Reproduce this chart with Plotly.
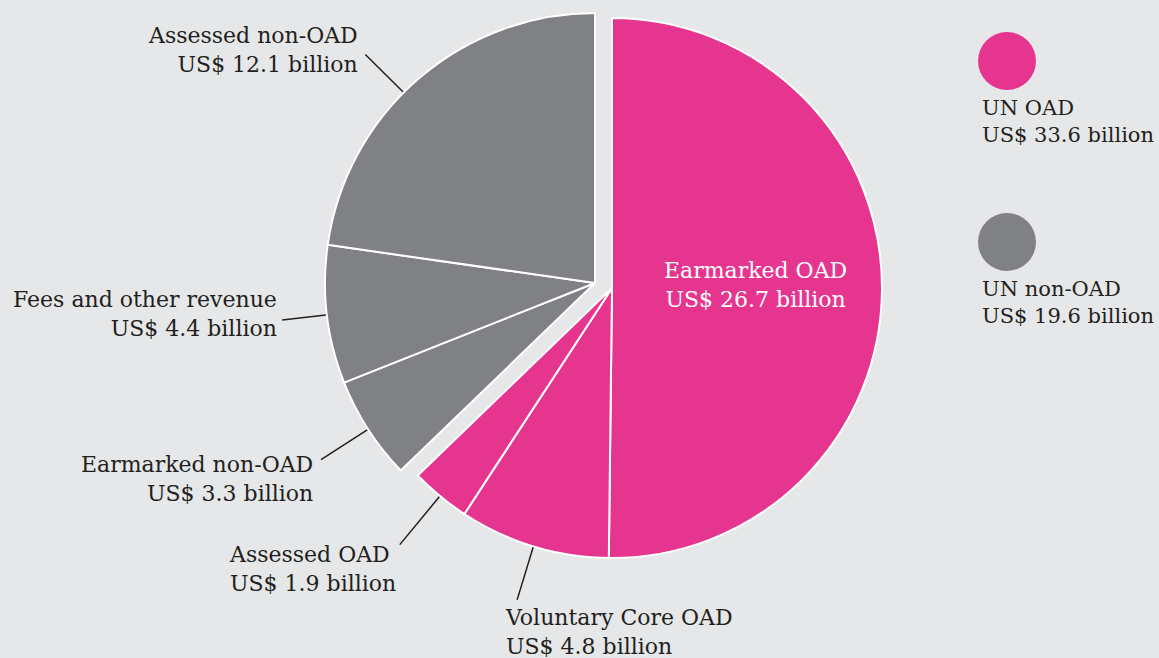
import math
import plotly.graph_objects as go

# ---------------- data ----------------
categories = ["Earmarked OAD", "Voluntary Core OAD", "Assessed OAD",
              "Earmarked non-OAD", "Fees and other revenue", "Assessed non-OAD"]
values = [26.7, 4.8, 1.9, 3.3, 4.4, 12.1]
groups = ["OAD", "OAD", "OAD", "non-OAD", "non-OAD", "non-OAD"]
group_keys = ["OAD", "non-OAD"]
group_names = ["UN OAD", "UN non-OAD"]
group_totals = [33.6, 19.6]

# ---------------- style / layout ----------------
W, H = 1159, 658
PINK = "#E6358F"
GREY = "#808185"
BG = "#E6E7E8"
TEXT = "#231F20"
FONT = "DejaVu Serif"
FS = 22
LEG_FS = 21
group_colors = {"OAD": PINK, "non-OAD": GREY}
# pie centre / radius in pixels for each (exploded) group
pie_geom = {"OAD": (612, 288, 270), "non-OAD": (595, 283, 270)}

# per-slice label placement: (leader length px, angle tweak deg, xanchor, align, xshift, yshift)
label_cfg = {
    1: (55, 0.0, "left", "left", -14, -32),
    2: (62, 0.0, "right", "left", -2, -24.5),
    3: (55, 0.0, "right", "right", -6, -19.5),
    4: (44, 0.0, "right", "right", -3, 6.5),
    5: (53, -4.2, "right", "right", -5, 4.5),
}
inside_label = 0
legend_pos = [(1007, 61), (1007, 242)]
legend_r = 29


def px2paper(x, y):
    return x / W, 1 - y / H


total = sum(values)
mids = []
acc = 0.0
for v in values:
    mids.append((acc + v / 2) / total * 360)
    acc += v

fig = go.Figure()
for g in group_keys:
    cx, cy, r = pie_geom[g]
    cols = [group_colors[g] if gg == g else "rgba(0,0,0,0)" for gg in groups]
    lcols = ["white" if gg == g else "rgba(0,0,0,0)" for gg in groups]
    fig.add_trace(go.Pie(
        labels=categories, values=values, sort=False, direction="clockwise",
        rotation=0, textinfo="none", hoverinfo="label+value",
        marker=dict(colors=cols, line=dict(color=lcols, width=2)),
        domain=dict(x=[(cx - r) / W, (cx + r) / W],
                    y=[1 - (cy + r) / H, 1 - (cy - r) / H]),
        showlegend=False,
    ))

shapes, annotations = [], []
for i, cat in enumerate(categories):
    cx, cy, r = pie_geom[groups[i]]
    text = f"{cat}<br>US$ {values[i]} billion"
    if i == inside_label:
        th = math.radians(mids[i])
        x = cx + 0.53 * r * math.sin(th)
        y = cy - 0.53 * r * math.cos(th)
        px_, py_ = px2paper(x, y)
        annotations.append(dict(x=px_, y=py_, xref="paper", yref="paper", text=text,
                                showarrow=False, xanchor="center", yanchor="middle",
                                align="center", yshift=4,
                                font=dict(family=FONT, size=FS, color="white")))
        continue
    L, tweak, xa, al, xs, ys = label_cfg[i]
    th = math.radians(mids[i] + tweak)
    x0 = cx + (r + 1) * math.sin(th)
    y0 = cy - (r + 1) * math.cos(th)
    x1 = cx + (r + 1 + L) * math.sin(th)
    y1 = cy - (r + 1 + L) * math.cos(th)
    a0, b0 = px2paper(x0, y0)
    a1, b1 = px2paper(x1, y1)
    shapes.append(dict(type="line", xref="paper", yref="paper", x0=a0, y0=b0, x1=a1, y1=b1,
                       line=dict(color=TEXT, width=1.5)))
    annotations.append(dict(x=a1, y=b1, xref="paper", yref="paper", text=text,
                            showarrow=False, xanchor=xa, yanchor="middle", align=al,
                            xshift=xs, yshift=ys,
                            font=dict(family=FONT, size=FS, color=TEXT)))

for k, g in enumerate(group_keys):
    lx, ly = legend_pos[k]
    x0, y0 = px2paper(lx - legend_r, ly - legend_r)
    x1, y1 = px2paper(lx + legend_r, ly + legend_r)
    shapes.append(dict(type="circle", xref="paper", yref="paper", x0=x0, x1=x1, y0=y1, y1=y0,
                       fillcolor=group_colors[g], line=dict(width=0)))
    tx, ty = px2paper(lx - 27, ly + 60.5)
    annotations.append(dict(x=tx, y=ty, xref="paper", yref="paper",
                            text=f"{group_names[k]}<br>US$ {group_totals[k]} billion",
                            showarrow=False, xanchor="left", yanchor="middle", align="left",
                            font=dict(family=FONT, size=LEG_FS, color=TEXT)))

fig.update_layout(
    width=W, height=H, margin=dict(l=0, r=0, t=0, b=0, pad=0),
    paper_bgcolor=BG, plot_bgcolor=BG, autosize=False,
    shapes=shapes, annotations=annotations,
    font=dict(family=FONT, size=FS, color=TEXT),
)

fig.write_html("out.html", config={"displayModeBar": False},
               post_script="document.body.style.margin='0';document.body.style.overflow='hidden';")
